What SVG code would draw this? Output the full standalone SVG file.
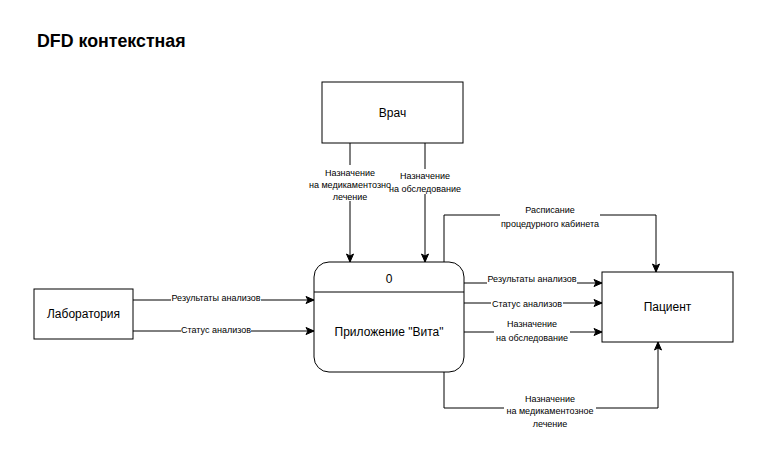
<svg xmlns="http://www.w3.org/2000/svg" width="759" height="455" viewBox="0 0 759 455">
<defs>
<marker id="arr" markerWidth="10" markerHeight="10" refX="9" refY="5" orient="auto" markerUnits="userSpaceOnUse">
<path d="M1,1.5 L9,5 L1,8.5 L3,5 Z" fill="#000" stroke="#000" stroke-width="1"/>
</marker>
</defs>
<style>
.box{fill:#fff;stroke:#000;stroke-width:1}
.t{font-family:"Liberation Sans",Arial,sans-serif;font-size:12px;fill:#000;text-anchor:middle}
.l{font-family:"Liberation Sans",Arial,sans-serif;font-size:9px;fill:#000;text-anchor:middle}
.e{fill:none;stroke:#000;stroke-width:1;marker-end:url(#arr)}
.bg{fill:#fff}
</style>
<rect width="759" height="455" fill="#fff"/>
<text x="37" y="47" style="font-family:'Liberation Sans',Arial,sans-serif;font-size:17.8px;font-weight:bold">DFD контекстная</text>

<g id="connectors">
<path class="e" d="M350,143 V262"/>
<path class="e" d="M425,143 V262"/>
<path class="e" d="M444,262 V215 H656 V272"/>
<path class="e" d="M464,283 H602"/>
<path class="e" d="M464,303 H602"/>
<path class="e" d="M464,332 H602"/>
<path class="e" d="M444,372 V408 H658 V342"/>
<path class="e" d="M133,300 H314"/>
<path class="e" d="M133,331 H314"/>
</g>

<g id="labels">
<rect class="bg" x="340" y="165" width="20" height="36"/>
<rect class="bg" x="415" y="169" width="20" height="25"/>
<text class="l" x="350" y="176">Назначение</text>
<text class="l" x="350" y="188">на медикаментозно</text>
<text class="l" x="350" y="200">лечение</text>
<text class="l" x="425" y="179">Назначение</text>
<text class="l" x="425" y="192">на обследование</text>
<rect class="bg" x="500" y="203" width="100" height="26"/>
<text class="l" x="550" y="213">Расписание</text>
<text class="l" x="550" y="227">процедурного кабинета</text>
<rect class="bg" x="487" y="272" width="90" height="12"/>
<text class="l" x="532" y="282">Результаты анализов</text>
<rect class="bg" x="491" y="298" width="72" height="11"/>
<text class="l" x="527" y="307">Статус анализов</text>
<rect class="bg" x="494" y="318" width="76" height="25"/>
<text class="l" x="532" y="327">Назначение</text>
<text class="l" x="532" y="341">на обследование</text>
<rect class="bg" x="504" y="392" width="92" height="36"/>
<text class="l" x="550" y="402">Назначение</text>
<text class="l" x="550" y="414">на медикаментозное</text>
<text class="l" x="550" y="427">лечение</text>
<rect class="bg" x="171" y="292" width="90" height="11"/>
<text class="l" x="216" y="301">Результаты анализов</text>
<rect class="bg" x="181" y="324" width="70" height="11"/>
<text class="l" x="216" y="333">Статус анализов</text>
</g>

<g id="vrach">
<rect class="box" x="322" y="82" width="141" height="61"/>
<text class="t" x="392.5" y="117">Врач</text>
</g>
<g id="process">
<rect class="box" x="314" y="262" width="150" height="110" rx="15" ry="15"/>
<line x1="314" y1="292" x2="464" y2="292" stroke="#000" stroke-width="1"/>
<text class="t" x="389" y="283">0</text>
<text class="t" x="389" y="336">Приложение "Вита"</text>
</g>
<g id="lab">
<rect class="box" x="34" y="289" width="99" height="50"/>
<text class="t" x="83.5" y="318">Лаборатория</text>
</g>
<g id="patient">
<rect class="box" x="602" y="272" width="131" height="70"/>
<text class="t" x="667.5" y="311">Пациент</text>
</g>
</svg>
